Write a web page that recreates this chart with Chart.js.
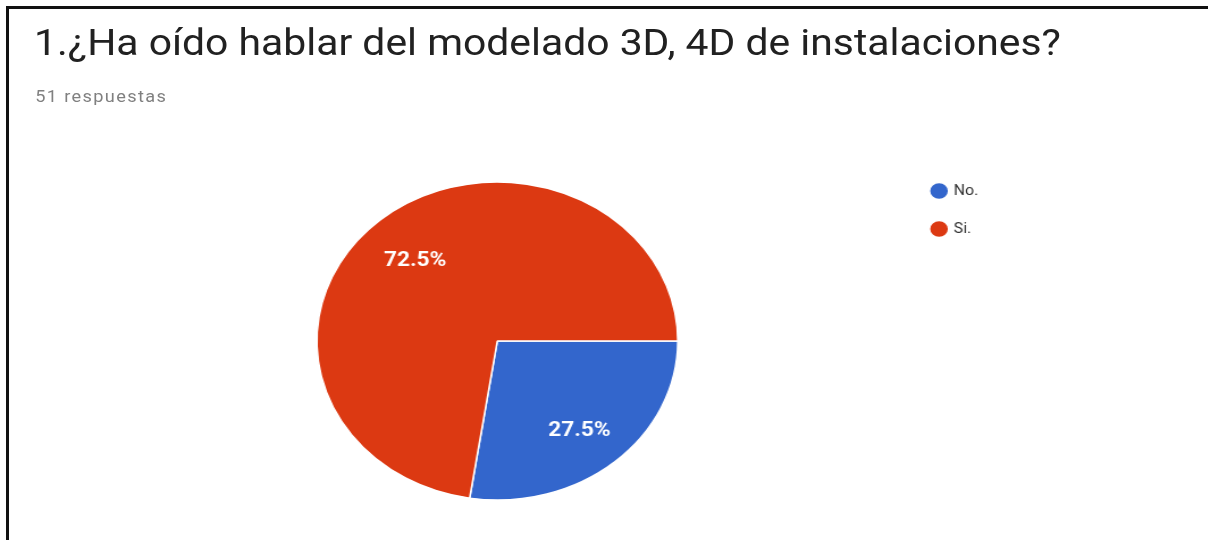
<!DOCTYPE html>
<html lang="es">
<head>
<meta charset="utf-8">
<title>Modelado 3D, 4D</title>
<script src="https://cdn.jsdelivr.net/npm/chart.js@4.4.1/dist/chart.umd.min.js"></script>
<style>
    html, body { margin: 0; padding: 0; background: #fff; }
    body { width: 1208px; height: 540px; overflow: hidden; position: relative; }
    .frame {
        position: absolute; left: 6px; top: 6px; right: -10px; bottom: -10px;
        border-left: 3px solid #111; border-top: 3px solid #111;
    }
    /* the card is laid out narrow and stretched sideways */
    .card {
        position: absolute; left: 0; top: 0; width: 1064px; height: 540px;
        transform: scaleX(1.135); transform-origin: 0 0;
        font-family: Roboto, "Noto Sans", Arial, sans-serif;
    }
    .card h1 {
        position: absolute; left: 30px; top: 22px; margin: 0;
        font-size: 36px; font-weight: 400; color: #212121; white-space: nowrap;
    }
    .card .count {
        position: absolute; left: 31px; top: 87px;
        font-size: 16px; letter-spacing: 1.2px; color: #808080;
    }
    .card canvas { position: absolute; left: 0; top: 0; }
</style>
</head>
<body>
<div class="frame"></div>
<div class="card">
    <h1>1.¿Ha oído hablar del modelado 3D, 4D de instalaciones?</h1>
    <div class="count">51 respuestas</div>
    <canvas id="pieChart" width="1064" height="540"></canvas>
</div>
<script>
const answers = ['No.', 'Si.'];
const answerCounts = [14, 37];
const answerColors = ['#3366cc', '#dc3912'];

// percentage labels placed inside each slice
const sliceLabels = {
    id: 'sliceLabels',
    afterDatasetsDraw(chart) {
        const ctx = chart.ctx;
        const data = chart.data.datasets[0].data;
        const total = data.reduce((a, b) => a + b, 0);
        ctx.save();
        ctx.fillStyle = '#ffffff';
        ctx.font = 'bold 20px Roboto, "Noto Sans", sans-serif';
        ctx.textAlign = 'center';
        ctx.textBaseline = 'middle';
        chart.getDatasetMeta(0).data.forEach((arc, i) => {
            const p = arc.getProps(['x', 'y', 'startAngle', 'endAngle', 'outerRadius'], true);
            const mid = (p.startAngle + p.endAngle) / 2;
            const r = p.outerRadius * 0.7;
            const pct = (data[i] / total * 100).toFixed(1) + '%';
            ctx.fillText(pct, p.x + Math.cos(mid) * r, p.y + Math.sin(mid) * r + 5);
        });
        ctx.restore();
    }
};

new Chart(document.getElementById('pieChart'), {
    type: 'pie',
    data: {
        labels: answers,
        datasets: [{
            data: answerCounts,
            backgroundColor: answerColors,
            borderColor: '#ffffff',
            borderWidth: 1.5,
            hoverOffset: 0,
            radius: 159
        }]
    },
    options: {
        responsive: false,
        animation: false,
        rotation: 90,
        layout: { padding: { left: 79, right: 192, top: 160, bottom: 18 } },
        plugins: {
            tooltip: { enabled: false },
            legend: {
                position: 'right',
                align: 'start',
                labels: {
                    usePointStyle: true,
                    pointStyle: 'circle',
                    boxWidth: 12,
                    boxHeight: 12,
                    padding: 24,
                    color: '#333',
                    font: { family: 'Roboto, "Noto Sans", sans-serif', size: 14 }
                }
            }
        }
    },
    plugins: [sliceLabels]
});
</script>
</body>
</html>
